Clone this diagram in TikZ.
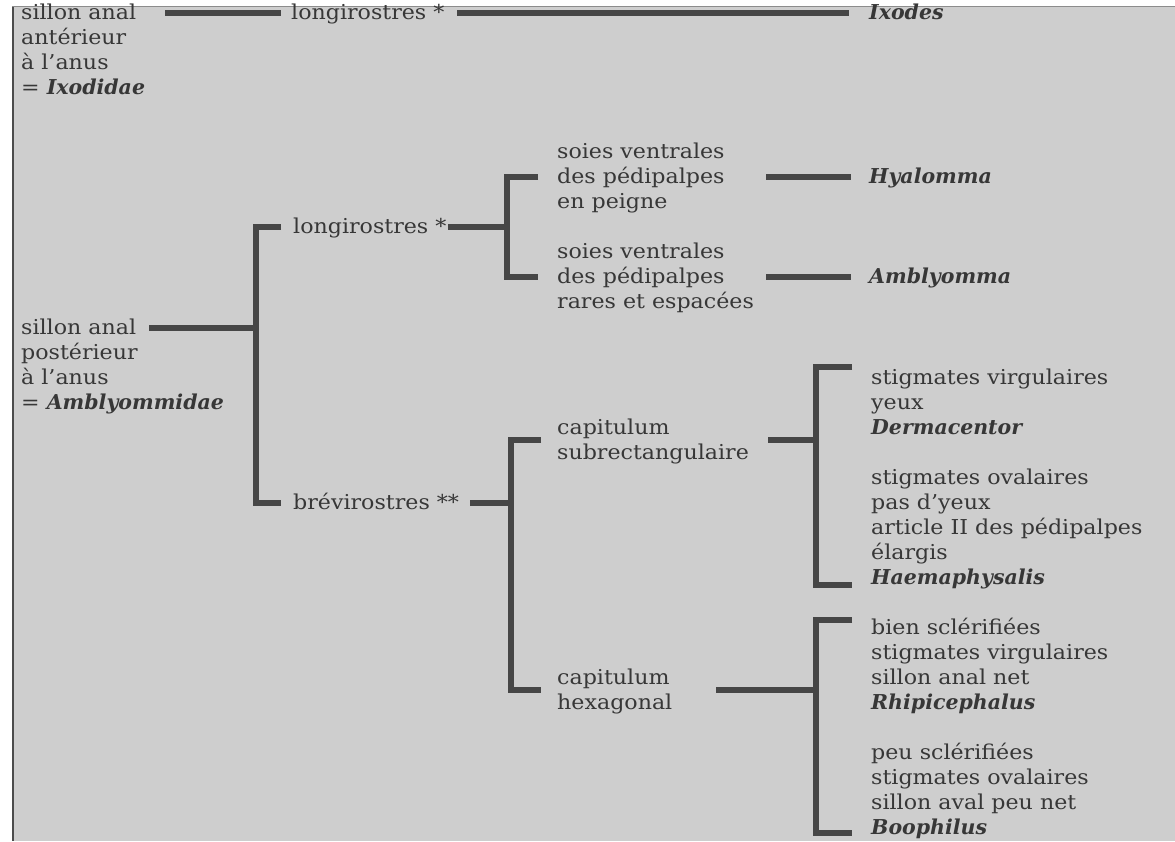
\documentclass[tikz,border=0pt]{standalone}
\usepackage{fontspec}
\setmainfont{DejaVu Serif}[FakeStretch=1.08]
\newfontfamily\gnfont{DejaVu Serif}
\definecolor{paper}{RGB}{206,206,206}
\definecolor{ink}{RGB}{55,55,55}
\definecolor{rule}{RGB}{70,70,70}
\begin{document}
\begin{tikzpicture}[x=1pt,y=-1pt,
  lbl/.style={anchor=base west, inner sep=0pt, align=left, text=ink,
    font=\fontsize{20.5}{25}\selectfont},
  conn/.style={draw=rule, line width=5.5pt},
  brk/.style={draw=rule, line width=5.5pt, line cap=butt, line join=miter}]
\useasboundingbox (0,0) rectangle (1175,841);
\fill[white] (0,0) rectangle (1175,841);
\fill[paper] (12,6) rectangle (1175,841);
\draw[black!70, line width=1.4pt] (13,6) -- (13,841);
\draw[black!45, line width=1pt] (12,6.5) -- (1175,6.5);
\newcommand{\gn}[1]{{\gnfont\bfseries\itshape #1}}
% texts (anchor = baseline of the last line)
\node[lbl] (ixodidae) at (21,94) {sillon anal\\antérieur\\à l'anus\\= \gn{Ixodidae}};
\node[lbl] (longA) at (291,19) {longirostres *};
\node[lbl] (ixodes) at (869,19) {\gn{Ixodes}};
\node[lbl] (amblyommidae) at (21,409) {sillon anal\\postérieur\\à l'anus\\= \gn{Amblyommidae}};
\node[lbl] (longB) at (293,233) {longirostres *};
\node[lbl] (peigne) at (557,208) {soies ventrales\\des pédipalpes\\en peigne};
\node[lbl] (rares) at (557,308) {soies ventrales\\des pédipalpes\\rares et espacées};
\node[lbl] (hyalomma) at (869,183) {\gn{Hyalomma}};
\node[lbl] (amblyomma) at (869,283) {\gn{Amblyomma}};
\node[lbl] (brevi) at (293,509) {brévirostres **};
\node[lbl] (subrect) at (557,459) {capitulum\\subrectangulaire};
\node[lbl] (hexa) at (557,709) {capitulum\\hexagonal};
\node[lbl] (derma) at (871,434) {stigmates virgulaires\\yeux\\\gn{Dermacentor}};
\node[lbl] (haema) at (871,584) {stigmates ovalaires\\pas d'yeux\\article II des pédipalpes\\élargis\\\gn{Haemaphysalis}};
\node[lbl] (rhipi) at (871,709) {bien sclérifiées\\stigmates virgulaires\\sillon anal net\\\gn{Rhipicephalus}};
\node[lbl] (boo) at (871,834) {peu sclérifiées\\stigmates ovalaires\\sillon aval peu net\\\gn{Boophilus}};
% connector end points
\coordinate (a1) at (165,13); \coordinate (a2) at (281,13);
\coordinate (a3) at (457,13); \coordinate (a4) at (849,13);
\coordinate (r1) at (149,328); \coordinate (r2) at (256,328);
\coordinate (bt) at (256,227); \coordinate (bb) at (256,503);
\coordinate (l1) at (448,227); \coordinate (l2) at (507,227);
\coordinate (ht) at (507,177); \coordinate (hb) at (507,277);
\coordinate (h1) at (766,177); \coordinate (h2) at (851,177);
\coordinate (m1) at (766,277); \coordinate (m2) at (851,277);
\coordinate (v1) at (470,503); \coordinate (v2) at (511,503);
\coordinate (ct) at (511,440); \coordinate (cb) at (511,690);
\coordinate (s1) at (768,440); \coordinate (s2) at (816,440);
\coordinate (dt) at (816,367); \coordinate (db) at (816,585);
\coordinate (x1) at (716,690); \coordinate (x2) at (816,690);
\coordinate (et) at (816,620); \coordinate (eb) at (816,833);
% connectors
\draw[conn] (a1) -- (a2);
\draw[conn] (a3) -- (a4);
\draw[conn] (r1) -- (r2);
\draw[brk] ([xshift=25pt]bt) -- (bt) -- (bb) -- ([xshift=25pt]bb);
\draw[conn] (l1) -- (l2);
\draw[brk] ([xshift=31pt]ht) -- (ht) -- (hb) -- ([xshift=31pt]hb);
\draw[conn] (h1) -- (h2);
\draw[conn] (m1) -- (m2);
\draw[conn] (v1) -- (v2);
\draw[brk] ([xshift=30pt]ct) -- (ct) -- (cb) -- ([xshift=30pt]cb);
\draw[conn] (s1) -- (s2);
\draw[brk] ([xshift=36pt]dt) -- (dt) -- (db) -- ([xshift=36pt]db);
\draw[conn] (x1) -- (x2);
\draw[brk] ([xshift=36pt]et) -- (et) -- (eb) -- ([xshift=36pt]eb);
\end{tikzpicture}
\end{document}
